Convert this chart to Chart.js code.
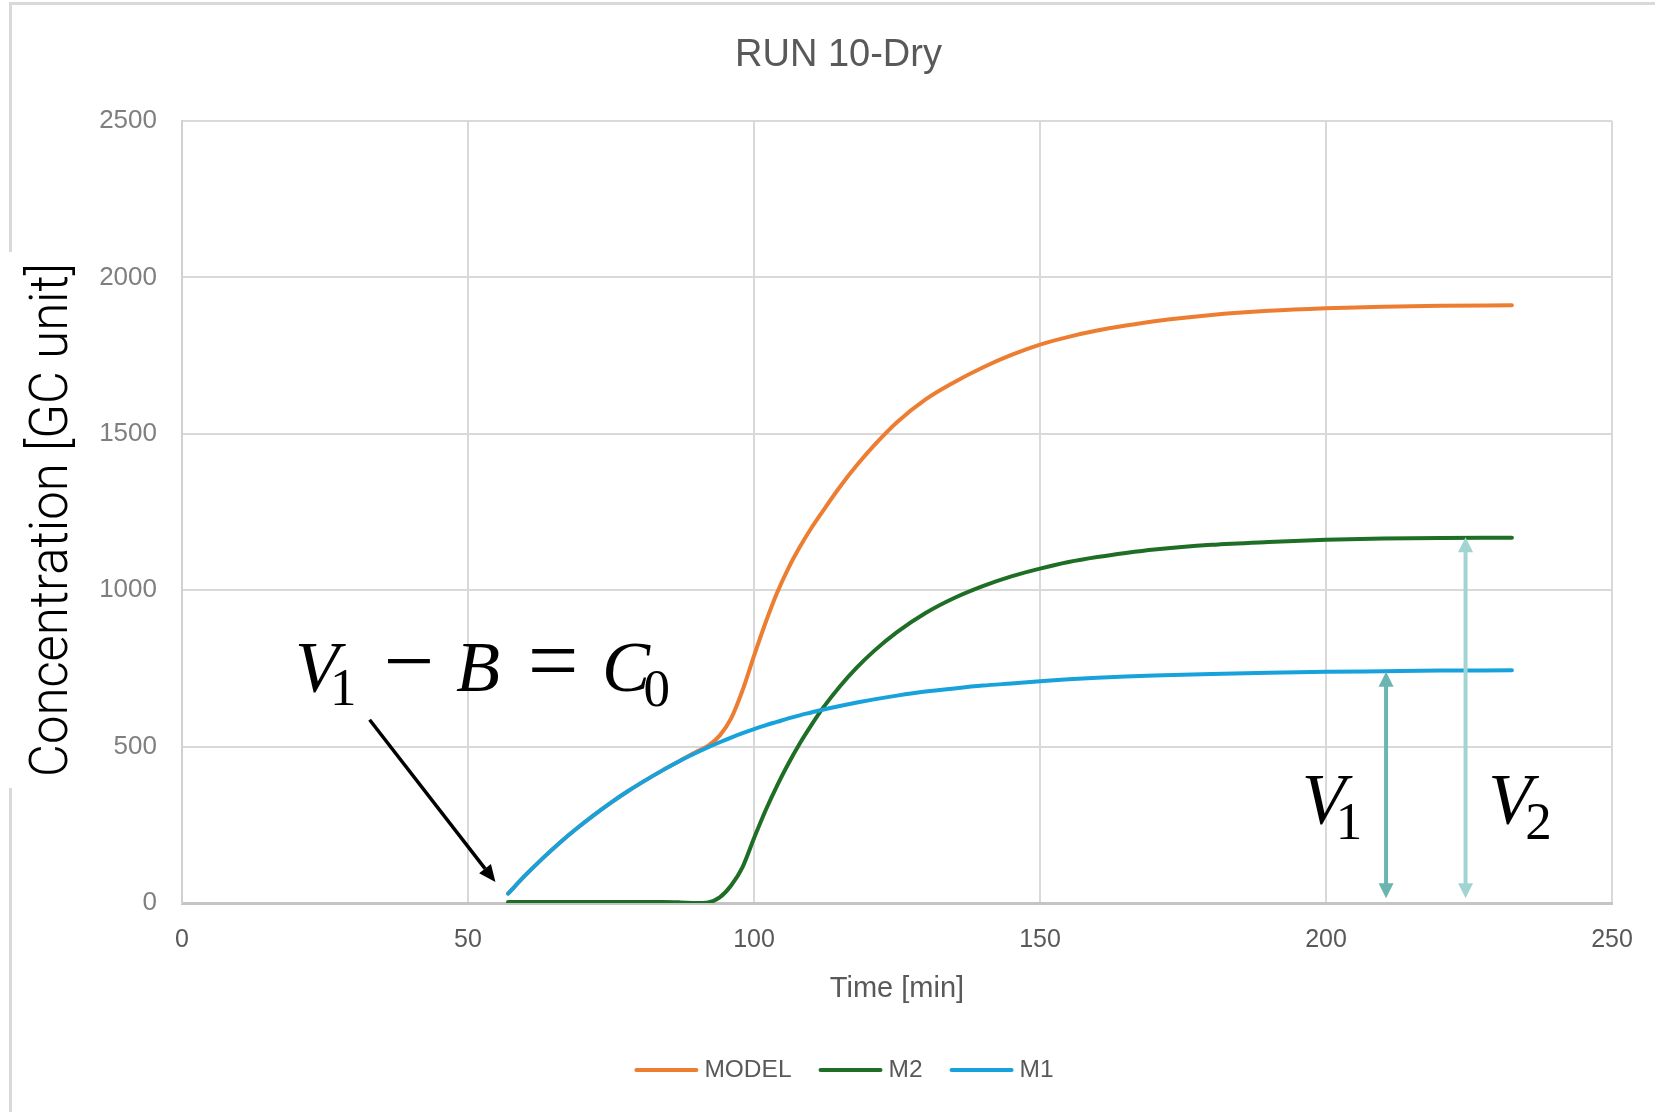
<!DOCTYPE html>
<html>
<head>
<meta charset="utf-8">
<script src="https://cdn.jsdelivr.net/npm/chart.js@4.4.1/dist/chart.umd.min.js"></script>
<style>
html,body{margin:0;padding:0;background:#fff;}
#wrap{width:1655px;height:1112px;position:relative;}
</style>
</head>
<body>
<div id="wrap"><canvas id="c" width="1655" height="1112"></canvas></div>
<script>
// ---- data ----
const times = [57,60,63,66,69,72,75,78,81,84,87,90,92,94,96,98,100,102,104,106,108,110,112,115,118,121,125,130,135,140,145,150,155,160,165,170,180,190,200,210,220,232.5];
const modelVals = [30,88,142,192,238,281,321,358,392,424,454,484,503,535,590,680,790,895,990,1070,1138,1198,1252,1330,1400,1463,1537,1610,1665,1712,1752,1785,1810,1830,1846,1860,1880,1893,1901,1906,1909,1911];
const m2Vals = [3,3,3,3,3,3,3,3,3,3,2,0,2,18,56,115,207,295,374,445,510,568,622,692,753,806,866,927,975,1013,1044,1069,1090,1106,1119,1130,1145,1154,1161,1165,1167,1168];
const m1Vals = [30,88,142,192,238,281,321,358,392,424,454,481,498,514,529,543,556,568,579,590,600,609,618,630,641,651,663,676,686,695,702,709,715,720,724,727,732,736,739,741,743,744];
const seriesNames = ['MODEL','M2','M1'];
const seriesColors = ['#ED7D31','#1E6E25','#18A2DC'];
const xTickVals = [0,50,100,150,200,250];
const yTickVals = [0,500,1000,1500,2000,2500];
const chartTitle = 'RUN 10-Dry';
const xTitle = 'Time [min]';
const yTitle = 'Concentration [GC unit]';

// annotation anchors in data units
const formulaAnchor = {x: 20.3, y: 679};
const pointerArrow = {from: [32.8, 586], to: [54.8, 67]};
const v1Arrow = {x: 210.5, y0: 15, y1: 739};
const v2Arrow = {x: 224.4, y0: 15, y1: 1169};
const v1Label = {x: 196.3, y: 255.7};
const v2Label = {x: 228.9, y: 255.7};

const toPts = vals => vals.map((v, i) => ({x: times[i], y: v}));
const seriesVals = [modelVals, m2Vals, m1Vals];

function arrowHead(ctx, tipX, tipY, fromX, fromY, len, halfW) {
  const ang = Math.atan2(tipY - fromY, tipX - fromX);
  const bx = tipX - len * Math.cos(ang), by = tipY - len * Math.sin(ang);
  ctx.beginPath();
  ctx.moveTo(tipX, tipY);
  ctx.lineTo(bx + halfW * Math.sin(ang), by - halfW * Math.cos(ang));
  ctx.lineTo(bx - halfW * Math.sin(ang), by + halfW * Math.cos(ang));
  ctx.closePath();
  ctx.fill();
  return [bx, by];
}

function drawParts(ctx, ax, ay, parts) {
  parts.forEach(p => {
    ctx.font = p.f;
    ctx.textAlign = p.align || 'left';
    ctx.textBaseline = 'alphabetic';
    ctx.fillText(p.t, ax + p.dx, ay + (p.dy || 0));
  });
}

const IT = 'italic 72px "Liberation Serif"';
const SUB = '53px "Liberation Serif"';
const OP = '90px "Liberation Serif"';
const LEG_FONT = '24.5px "Liberation Sans"';

const annotPlugin = {
  id: 'annot',
  beforeDraw(chart) {
    const ctx = chart.ctx;
    ctx.save();
    ctx.fillStyle = '#fff';
    ctx.fillRect(0, 0, chart.width, chart.height);
    // outer frame remnants
    ctx.strokeStyle = '#D9D9D9';
    ctx.lineWidth = 3;
    ctx.beginPath();
    ctx.moveTo(9, 3.5); ctx.lineTo(chart.width, 3.5);
    ctx.moveTo(10.5, 2); ctx.lineTo(10.5, 252);
    ctx.moveTo(10.5, 788); ctx.lineTo(10.5, chart.height);
    ctx.stroke();
    // y axis title (condensed light)
    ctx.font = '300 54px Roboto';
    const w = ctx.measureText(yTitle).width;
    ctx.translate(53, 520);
    ctx.rotate(-Math.PI / 2);
    ctx.scale(514 / w, 1);
    ctx.fillStyle = '#000';
    ctx.textAlign = 'center';
    ctx.textBaseline = 'middle';
    ctx.fillText(yTitle, 0, 0);
    ctx.restore();
  },
  afterDraw(chart) {
    // legend (line sample + label), centred under the chart
    const ctx = chart.ctx;
    ctx.save();
    ctx.font = LEG_FONT;
    const lineW = 64, gap = 6, itemGap = 27;
    const ds = chart.data.datasets;
    let total = 0;
    ds.forEach((d, i) => { total += lineW + gap + ctx.measureText(d.label).width + (i < ds.length - 1 ? itemGap : 0); });
    let x = (chart.width + 33) / 2 - total / 2;
    const y = 1070;
    ds.forEach(d => {
      ctx.strokeStyle = d.borderColor;
      ctx.lineWidth = 4;
      ctx.lineCap = 'round';
      ctx.beginPath(); ctx.moveTo(x + 2, y); ctx.lineTo(x + lineW - 2, y); ctx.stroke();
      x += lineW + gap;
      ctx.fillStyle = '#595959';
      ctx.textAlign = 'left';
      ctx.textBaseline = 'middle';
      ctx.fillText(d.label, x, y);
      x += ctx.measureText(d.label).width + itemGap;
    });
    ctx.restore();
  },
  afterDatasetsDraw(chart) {
    const ctx = chart.ctx;
    const xs = chart.scales.x, ys = chart.scales.y;
    const px = v => xs.getPixelForValue(v), py = v => ys.getPixelForValue(v);
    ctx.save();
    // black pointer arrow
    const x1 = px(pointerArrow.from[0]), y1 = py(pointerArrow.from[1]);
    const x2 = px(pointerArrow.to[0]), y2 = py(pointerArrow.to[1]);
    ctx.fillStyle = '#000';
    ctx.strokeStyle = '#000';
    const [bx, by] = arrowHead(ctx, x2, y2, x1, y1, 17, 7.5);
    ctx.lineWidth = 3.5;
    ctx.beginPath(); ctx.moveTo(x1, y1); ctx.lineTo(bx, by); ctx.stroke();
    // double-headed vertical arrows
    [[v1Arrow, '#6BB5B1'], [v2Arrow, '#A2D4D2']].forEach(([a, col]) => {
      const x = px(a.x), yb = py(a.y0), yt = py(a.y1);
      ctx.fillStyle = col; ctx.strokeStyle = col;
      arrowHead(ctx, x, yt, x, yb, 15, 7.5);
      arrowHead(ctx, x, yb, x, yt, 15, 7.5);
      ctx.lineWidth = 4;
      ctx.beginPath(); ctx.moveTo(x, yt + 14); ctx.lineTo(x, yb - 14); ctx.stroke();
    });
    // formula text
    ctx.fillStyle = '#000';
    drawParts(ctx, px(formulaAnchor.x), py(formulaAnchor.y), [
      {t: 'V', f: IT, dx: -3},
      {t: '1', f: SUB, dx: 32, dy: 14.5},
      {t: '\u2212', f: OP, dx: 111, align: 'center'},
      {t: 'B', f: IT, dx: 158},
      {t: '=', f: OP, dx: 255, align: 'center'},
      {t: 'C', f: IT, dx: 304},
      {t: '0', f: SUB, dx: 345.5, dy: 15.5}
    ]);
    drawParts(ctx, px(v1Label.x), py(v1Label.y), [
      {t: 'V', f: IT, dx: -3},
      {t: '1', f: SUB, dx: 31, dy: 16}
    ]);
    drawParts(ctx, px(v2Label.x), py(v2Label.y), [
      {t: 'V', f: IT, dx: -3},
      {t: '2', f: SUB, dx: 34, dy: 16}
    ]);
    ctx.restore();
  }
};

Chart.defaults.font.family = '"Liberation Sans", Arial, sans-serif';

new Chart(document.getElementById('c'), {
  type: 'scatter',
  data: {
    datasets: seriesNames.map((name, i) => ({
      label: name,
      data: toPts(seriesVals[i]),
      showLine: true,
      borderColor: seriesColors[i],
      backgroundColor: seriesColors[i],
      borderWidth: 4,
      borderCapStyle: 'round',
      borderJoinStyle: 'round',
      pointRadius: 0,
      pointHoverRadius: 0,
      cubicInterpolationMode: 'monotone',
      order: 3 - i
    }))
  },
  options: {
    responsive: false,
    devicePixelRatio: 1,
    animation: false,
    events: [],
    layout: {padding: {left: 22, right: 0, top: 0, bottom: 78.5}},
    scales: {
      x: {
        type: 'linear', position: 'bottom', min: 0, max: 250,
        afterBuildTicks: s => { s.ticks = xTickVals.map(v => ({value: v})); },
        afterFit: s => { s.height = 130.5; },
        grid: {color: '#D9D9D9', lineWidth: 2, drawTicks: false},
        border: {color: '#C4C4C4', width: 3},
        ticks: {font: {size: 25}, color: '#595959', padding: 22, callback: v => String(v)},
        title: {display: true, text: xTitle, font: {size: 29}, color: '#595959', padding: {top: 0, bottom: 27.5}}
      },
      y: {
        type: 'linear', position: 'left', min: 0, max: 2500,
        afterBuildTicks: s => { s.ticks = yTickVals.map(v => ({value: v})); },
        afterFit: s => { s.width = 160; },
        grid: {color: '#D9D9D9', lineWidth: 2, drawTicks: false},
        border: {color: '#D0D0D0', width: 2},
        ticks: {font: {size: 26}, color: '#7F7F7F', padding: 25, callback: v => String(v)}
      },
      y2: {
        type: 'linear', position: 'right', min: 0, max: 1, display: true,
        afterFit: s => { s.width = 43; },
        grid: {display: false}, border: {display: false}, ticks: {display: false}
      }
    },
    plugins: {
      title: {
        display: true, text: chartTitle,
        font: {size: 38, weight: 'normal'}, color: '#595959',
        padding: {top: 32.3, bottom: 43.1}
      },
      legend: {display: false},
      tooltip: {enabled: false}
    }
  },
  plugins: [annotPlugin]
});
</script>
</body>
</html>
